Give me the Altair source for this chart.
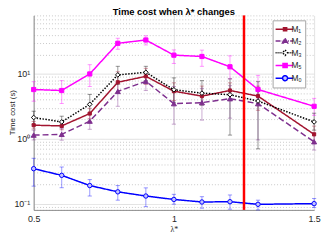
import altair as alt
import pandas as pd

# ---------------- data ----------------
lam = [0.5, 0.6, 0.7, 0.8, 0.9, 1.0, 1.1, 1.2, 1.3, 1.5]
series_names = ["M₁", "M₂", "M₃", "M₅", "M₀"]

m1 = [1.62, 1.58, 2.45, 7.45, 9.19, 5.42, 4.55, 5.56, 4.55, 1.17]
m1_lo = [1.42, 1.38, 2.05, 5.2, 6.9, 3.9, 3.4, 3.9, 2.75, 0.89]
m1_hi = [1.85, 1.82, 2.95, 10.8, 12.2, 7.3, 6.5, 7.3, 6.5, 1.57]

m2 = [1.14, 1.17, 1.87, 5.37, 7.71, 3.48, 3.61, 4.15, 3.48, 0.90]
m2_lo = [0.96, 0.95, 1.4, 3.17, 5.55, 1.68, 1.94, 2.08, 0.96, 0.67]
m2_hi = [1.36, 1.44, 2.5, 7.4, 10.4, 6.4, 6.0, 6.6, 6.0, 1.23]

m3 = [2.13, 1.82, 3.40, 9.66, 10.6, 5.70, 5.06, 4.78, 3.82, 1.82]
m3_lo = [1.68, 1.51, 2.48, 6.9, 7.9, 3.65, 3.3, 1.14, 0.70, 1.36]
m3_hi = [2.66, 2.23, 4.83, 13.1, 13.1, 8.7, 7.9, 8.4, 7.6, 2.48]

m5 = [5.75, 5.55, 10.0, 29.7, 33.4, 19.5, 18.6, 12.9, 5.76, 3.17]
m5_lo = [3.8, 3.5, 6.4, 24.0, 28.0, 14.5, 13.1, 8.4, 3.5, 2.3]
m5_hi = [7.6, 7.9, 13.9, 35.5, 38.8, 23.5, 23.3, 19.0, 9.5, 4.2]

m0 = [0.346, 0.273, 0.190, 0.152, 0.131, 0.116, 0.106, 0.107, 0.0976, 0.100]
m0_lo = [0.186, 0.176, 0.131, 0.113, 0.090, 0.098, 0.085, 0.082, 0.080, 0.087]
m0_hi = [0.50, 0.367, 0.235, 0.19, 0.175, 0.139, 0.128, 0.136, 0.113, 0.12]

threshold = [1.25]

x_ticks = [0.5, 1, 1.5]
y_major = [0.1, 1, 10]
y_minor_mult = [2, 3, 4, 5, 6, 7, 8, 9]

# ---------------- styles ----------------
line_colors = ["#a2142f", "#7e2f8e", "#000000", "#ff00ff", "#0000ff"]
fill_colors = ["#a2142f", "#7e2f8e", "#ffffff", "#ff00ff", "#c4c4ff"]
dashes = [[1, 0], [6, 3], [1.5, 1.5], [1, 0], [1, 0]]
marker_shapes = ["square", "triangle-up", "diamond", "square", "circle"]
marker_sizes = [10, 26, 22, 18, 20]

# legend symbols: line + marker as one path (units of 5 px)
legend_paths = [
    "M-1.2,0H2.4M0.4,-0.32H1.04V0.32H0.4Z",
    "M-1.2,0H-0.2M0.05,0H0.15M1.3,0H1.5M1.75,0H2.4M0.72,-0.55L1.25,0.4H0.19Z",
    "M-1.2,0H-1.0M-0.8,0H-0.6M-0.4,0H-0.2M0,0H0.15M1.3,0H1.45M1.65,0H1.85M2.05,0H2.25"
    "M0.72,-0.55L1.22,0L0.72,0.55L0.22,0Z",
    "M-1.2,0H2.4M0.3,-0.42H1.14V0.42H0.3Z",
    "M-1.2,0H0.22M1.22,0H2.4M0.22,0A0.5,0.5 0 1,0 1.22,0A0.5,0.5 0 1,0 0.22,0Z",
]

vals = [m1, m2, m3, m5, m0]
los = [m1_lo, m2_lo, m3_lo, m5_lo, m0_lo]
his = [m1_hi, m2_hi, m3_hi, m5_hi, m0_hi]

rows = []
for name, v, lo, hi in zip(series_names, vals, los, his):
    for i, x in enumerate(lam):
        rows.append({"lam": x, "value": v[i], "lo": lo[i], "hi": hi[i], "series": name})
df = pd.DataFrame(rows)

y_ticks = [0.08, 0.09]
for m in y_major:
    y_ticks.append(m)
    for k in y_minor_mult:
        v = round(m * k, 6)
        if v <= 80:
            y_ticks.append(v)

FONT = "Liberation Sans"
major_test = "datum.value == 0.1 || datum.value == 1 || datum.value == 10"

x_scale = alt.Scale(domain=[0.5, 1.5], nice=False, zero=False)
y_scale = alt.Scale(type="log", domain=[0.08, 80], nice=False)

x_axis = alt.Axis(
    values=x_ticks, title="λ*", ticks=False, labelFlush=False, format="~g",
    labelFont=FONT, labelFontSize=9, labelColor="#262626", labelPadding=5,
    titleFont="Liberation Serif", titleFontSize=8, titleFontWeight="normal",
    titleColor="#262626", titlePadding=2,
    domainColor="#8c8c8c", gridColor="#e3e3e3",
)
y_axis = alt.Axis(
    values=y_ticks, title="Time cost (s)", ticks=False,
    labelExpr="datum.value == 10 ? '10¹' : datum.value == 1 ? '10⁰' : datum.value == 0.1 ? '10⁻¹' : ''",
    labelFont=FONT, labelFontSize=9, labelColor="#262626", labelPadding=4,
    titleFont=FONT, titleFontSize=8, titleFontWeight="normal",
    titleColor="#262626", titleX=-17, titleY=98,
    domainColor="#8c8c8c",
    gridDash={"condition": {"test": major_test, "value": [1, 0]}, "value": [1, 2]},
    gridColor={"condition": {"test": major_test, "value": "#e0e0e0"}, "value": "#c8c8c8"},
)

stroke_scale = alt.Scale(domain=series_names, range=line_colors)
fill_scale = alt.Scale(domain=series_names, range=fill_colors)

leg = alt.Legend(
    title=None, orient="none", legendX=242, legendY=5, padding=3,
    strokeColor="#a6a6a6", fillColor="white", cornerRadius=0,
    symbolSize=100, symbolStrokeWidth=1.5, symbolOpacity=1,
    labelFont=FONT, labelFontSize=8.5, labelColor="#262626", labelOffset=4,
    rowPadding=0.9,
)

base = alt.Chart(df)

# error bars
err = base.mark_rule(strokeWidth=1, opacity=0.4).encode(
    x=alt.X("lam:Q", scale=x_scale, axis=x_axis),
    y=alt.Y("lo:Q", scale=y_scale, axis=y_axis),
    y2="hi:Q",
    stroke=alt.Stroke("series:N", scale=stroke_scale, legend=leg),
)
cap_lo = base.mark_point(shape="M-1,0H1", size=18, strokeWidth=1, opacity=0.4, filled=False).encode(
    x=alt.X("lam:Q", scale=x_scale),
    y=alt.Y("lo:Q", scale=y_scale),
    stroke=alt.Stroke("series:N", scale=stroke_scale, legend=leg),
)
cap_hi = base.mark_point(shape="M-1,0H1", size=18, strokeWidth=1, opacity=0.4, filled=False).encode(
    x=alt.X("lam:Q", scale=x_scale),
    y=alt.Y("hi:Q", scale=y_scale),
    stroke=alt.Stroke("series:N", scale=stroke_scale, legend=leg),
)

lines = base.mark_line(strokeWidth=1.5).encode(
    x=alt.X("lam:Q", scale=x_scale),
    y=alt.Y("value:Q", scale=y_scale),
    stroke=alt.Stroke("series:N", scale=stroke_scale, legend=leg),
    strokeDash=alt.StrokeDash("series:N", scale=alt.Scale(domain=series_names, range=dashes), legend=None),
    order="lam:Q",
)

marker_layers = []
for name, shp, sz in zip(series_names, marker_shapes, marker_sizes):
    marker_layers.append(
        base.transform_filter(alt.datum.series == name)
        .mark_point(shape=shp, size=sz, strokeWidth=1, opacity=1, filled=False)
        .encode(
            x=alt.X("lam:Q", scale=x_scale),
            y=alt.Y("value:Q", scale=y_scale),
            stroke=alt.Stroke("series:N", scale=stroke_scale, legend=leg),
            fill=alt.Fill("series:N", scale=fill_scale, legend=leg),
        )
    )

legend_layer = base.mark_point(opacity=0, strokeWidth=1.5, filled=False).encode(
    x=alt.X("lam:Q", scale=x_scale),
    y=alt.Y("value:Q", scale=y_scale),
    stroke=alt.Stroke("series:N", scale=stroke_scale, legend=leg),
    fill=alt.Fill("series:N", scale=fill_scale, legend=leg),
    shape=alt.Shape("series:N", scale=alt.Scale(domain=series_names, range=legend_paths), legend=leg),
)

vline = alt.Chart(pd.DataFrame({"t": threshold})).mark_rule(color="#ff0000", strokeWidth=2.5).encode(
    x=alt.X("t:Q", scale=x_scale)
)

chart = alt.layer(err, cap_lo, cap_hi, lines, *marker_layers, vline, legend_layer).properties(
    width=284, height=197,
    autosize="none",
    padding={"left": 26, "top": 6, "right": 8, "bottom": 30},
    title=alt.TitleParams("Time cost when λ* changes", font=FONT, fontSize=9.5,
                          fontWeight="bold", color="#000000", offset=0, frame="group",
                          baseline="alphabetic", anchor="middle", dy=10),
).configure_view(stroke=None)

chart.save("out.html", embed_options={"renderer": "svg", "actions": False})
